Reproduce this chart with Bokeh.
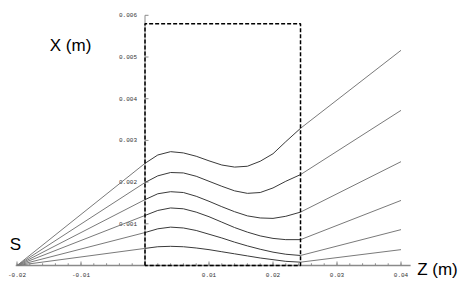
from bokeh.plotting import figure
from bokeh.models import Range1d
from bokeh.embed import file_html
from bokeh.resources import INLINE
from bokeh.core.properties import value

# ---- data ----
z_source = -0.02
z_end = 0.04
z_box = [0.0, 0.002, 0.004, 0.006, 0.008, 0.010, 0.012, 0.014, 0.016, 0.018, 0.020, 0.022, 0.0243]
ray1 = [0.00245, 0.00265, 0.00273, 0.00270, 0.00262, 0.00251, 0.00241, 0.00236, 0.00238, 0.00250, 0.00268, 0.00297, 0.00329]
ray2 = [0.00199, 0.00215, 0.00223, 0.00222, 0.00214, 0.00202, 0.00190, 0.00179, 0.00173, 0.00175, 0.00186, 0.00202, 0.00218]
ray3 = [0.00158, 0.00172, 0.00177, 0.00175, 0.00166, 0.00154, 0.00141, 0.00129, 0.00119, 0.00114, 0.00113, 0.00118, 0.00128]
ray4 = [0.00120, 0.00132, 0.00138, 0.00136, 0.00128, 0.00117, 0.00104, 0.00091, 0.00080, 0.00071, 0.00065, 0.00062, 0.00062]
ray5 = [0.00079, 0.00088, 0.00092, 0.00090, 0.00084, 0.00075, 0.00066, 0.00056, 0.00047, 0.00039, 0.00032, 0.00027, 0.00024]
ray6 = [0.00041, 0.00045, 0.00046, 0.00045, 0.00042, 0.00038, 0.00033, 0.00028, 0.00023, 0.00018, 0.00014, 0.00010, 0.00008]
rays = [ray1, ray2, ray3, ray4, ray5, ray6]
x_at_end = [0.00516, 0.00372, 0.00249, 0.00156, 0.00086, 0.00038]

box_left, box_right, box_bottom, box_top = 0.0, 0.0243, 0.0, 0.0058

x_major = [-0.02, -0.01, 0.0, 0.01, 0.02, 0.03, 0.04]
x_minor = [round(-0.02 + 0.002 * i, 4) for i in range(31)]
x_label_pos = [-0.02, -0.01, 0.01, 0.02, 0.03, 0.04]
x_labels = ["-0.02", "-0.01", "0.01", "0.02", "0.03", "0.04"]
y_major = [0.001, 0.002, 0.003, 0.004, 0.005, 0.006]
y_labels = ["0.001", "0.002", "0.003", "0.004", "0.005", "0.006"]

# ---- figure ----
W, H = 460, 280
p = figure(width=W, height=H, output_backend="svg", toolbar_location=None,
           x_axis_location=None, y_axis_location=None, min_border=0,
           x_range=Range1d(-144.5 / 6400, (W - 144.5) / 6400),
           y_range=Range1d(-(H - 265) / 41700, 265 / 41700))
p.grid.visible = False
p.outline_line_color = None
p.background_fill_color = "white"

axis_col = "#8a8a8a"
# x axis line and ticks
p.segment(x0=[-0.0202], y0=[0], x1=[0.0415], y1=[0], line_color=axis_col, line_width=1.5)
p.segment(x0=x_minor, y0=[0] * len(x_minor), x1=x_minor, y1=[2.2 / 41700] * len(x_minor),
          line_color=axis_col, line_width=1)
p.segment(x0=x_major, y0=[0] * len(x_major), x1=x_major, y1=[4 / 41700] * len(x_major),
          line_color=axis_col, line_width=1)
# y axis line and ticks
p.segment(x0=[0], y0=[0], x1=[0], y1=[0.006], line_color=axis_col, line_width=1)
p.segment(x0=[0] * len(y_major), y0=y_major, x1=[3.5 / 6400] * len(y_major), y1=y_major,
          line_color=axis_col, line_width=1)

tick_font = value("Liberation Mono")
p.text(x=x_label_pos, y=[0] * len(x_label_pos), text=x_labels, text_font=tick_font,
       text_font_size="6px", text_align="center", text_baseline="top", y_offset=7,
       text_color="#333333")
p.text(x=[0] * len(y_major), y=y_major, text=y_labels, text_font=tick_font,
       text_font_size="6px", text_align="right", text_baseline="middle", x_offset=-8,
       text_color="#333333")

# rays
for ray, ye in zip(rays, x_at_end):
    p.line([z_source, z_box[0]], [0, ray[0]], line_color="#7a7a7a", line_width=1)
    p.line(z_box, ray, line_color="#3a3a3a", line_width=1)
    p.line([z_box[-1], z_end], [ray[-1], ye], line_color="#7a7a7a", line_width=1)

# dashed box
p.line([box_left, box_left, box_right, box_right, box_left],
       [box_bottom, box_top, box_top, box_bottom, box_bottom],
       line_color="black", line_width=1.5, line_dash="4 2")

lab_font = value("Liberation Sans")
p.text(x=[-0.01488], y=[0.005276], text=["X (m)"], text_font=lab_font,
       text_font_size="17px", text_align="left", text_baseline="alphabetic", text_color="black")
p.text(x=[0.04253], y=[-0.000103], text=["Z (m)"], text_font=lab_font,
       text_font_size="17px", text_align="left", text_baseline="alphabetic", text_color="black")
p.text(x=[-0.02114], y=[0.000504], text=["S"], text_font=lab_font,
       text_font_size="17px", text_align="left", text_baseline="alphabetic", text_color="black")

open("out.html", "w").write(file_html(p, INLINE))
